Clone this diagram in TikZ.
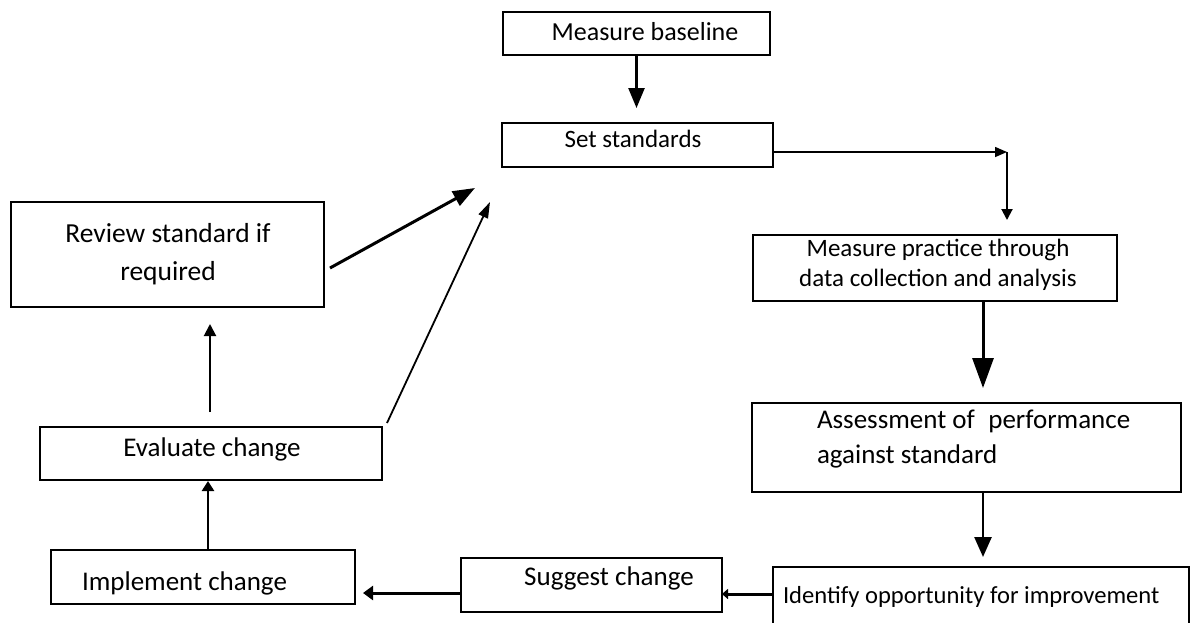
\documentclass[tikz,border=0pt]{standalone}
\usepackage{fontspec}
\setmainfont{Carlito}
\usetikzlibrary{arrows.meta,calc}
\begin{document}
\begin{tikzpicture}[x=1pt,y=-1pt,
  box/.style={draw,line width=1.6pt,inner sep=0pt,outer sep=0pt},
  lbl/.style={inner sep=0pt,outer sep=0pt,font=\fontsize{27}{35}\selectfont},
  lblsmall/.style={inner sep=0pt,outer sep=0pt,font=\fontsize{25}{30}\selectfont},
  conn/.style={line width=#1},
]
\useasboundingbox (0,0) rectangle (1192,622);

% boxes
\node[box,minimum width=267pt,minimum height=43pt] (mb) at (636.5,33.5) {};
\node[box,minimum width=271pt,minimum height=44pt] (ss) at (637.5,145) {};
\node[box,minimum width=364pt,minimum height=66pt] (mp) at (935,268) {};
\node[box,minimum width=429pt,minimum height=89pt] (as) at (966.5,447.5) {};
\node[box,line width=1.2pt,minimum width=416pt,minimum height=63pt] (id) at (981,598.5) {};
\node[box,minimum width=261pt,minimum height=54pt] (sg) at (591.5,585) {};
\node[box,minimum width=304pt,minimum height=54pt] (im) at (203,577) {};
\node[box,minimum width=342pt,minimum height=53pt] (ev) at (211,453.5) {};
\node[box,minimum width=313pt,minimum height=105pt] (rv) at (167.5,254.5) {};

% texts
\node[lbl,font=\fontsize{26}{35}\selectfont,anchor=base] (tmb) at (645,40) {Measure baseline};
\node[lbl,font=\fontsize{25}{30}\selectfont,anchor=base] (tss) at (633,147) {Set standards};
\node[lblsmall,align=center] (tmp) at (938,265) {Measure practice through\\data collection and analysis};
\node[lbl,align=left,anchor=west] (tas) at (817,439.5) {Assessment of\hspace{0.5em}performance\\against standard};
\node[lblsmall,font=\fontsize{24.6}{30}\selectfont,anchor=base west] (tid) at (783,603) {Identify opportunity for improvement};
\node[lbl,anchor=base] (tsg) at (609,585) {Suggest change};
\node[lbl,anchor=base] (tim) at (184.5,590) {Implement change};
\node[lbl,anchor=base] (tev) at (212,456) {Evaluate change};
\node[lbl,align=center,font=\fontsize{27.5}{38}\selectfont] (trv) at (168,254) {Review standard if\\required};

% free ends and corner
\coordinate (c1) at (1007,152);
\coordinate (ra) at (475,188);
\coordinate (rb) at (490,202);

% connectors
\draw[conn=2.5pt,-{Triangle[length=20pt,width=16pt]},shorten >=15pt]
  (mb.south) -- (mb.south |- ss.north);
\draw[conn=1.5pt,-{Triangle[length=12pt,width=10pt]}]
  ([yshift=-7pt]ss.east) -- (c1);
\draw[conn=2pt,-{Triangle[length=11pt,width=11pt]},shorten >=15pt]
  (c1) -- (c1 |- mp.north);
\draw[conn=3pt,-{Triangle[length=30pt,width=21pt]},shorten >=15pt]
  ([xshift=48pt]mp.south) -- ([xshift=48pt]mp.south |- as.north);
\draw[conn=2.5pt,-{Triangle[length=20pt,width=17pt]},shorten >=10pt]
  ([xshift=16.5pt]as.south) -- ([xshift=16.5pt]as.south |- id.north);
\draw[conn=3pt,-{Triangle[length=6pt,width=10pt]}]
  ([yshift=4.5pt]id.west) -- ([yshift=4.5pt]id.west -| sg.east);
\draw[conn=3pt,-{Triangle[length=10pt,width=14pt]},shorten >=8pt]
  ([yshift=-8pt]sg.west) -- ([yshift=-8pt]sg.west -| im.east);
\draw[conn=2.5pt,-{Triangle[length=10pt,width=12pt]},shorten >=1pt]
  ([xshift=5pt]im.north) -- ([xshift=5pt]im.north |- ev.south);
\draw[conn=2pt,-{Triangle[length=12pt,width=12pt]},shorten <=15pt,shorten >=17pt]
  ([xshift=-1pt]ev.north) -- ([xshift=-1pt]ev.north |- rv.south);
\draw[conn=3pt,-{Triangle[length=22pt,width=16pt]}]
  ([xshift=6pt,yshift=-13.5pt]rv.east) -- (ra);
\draw[conn=1.8pt,-{Triangle[length=16pt,width=10pt]}]
  ([xshift=5pt,yshift=4pt]ev.north east) -- (rb);
\end{tikzpicture}
\end{document}
